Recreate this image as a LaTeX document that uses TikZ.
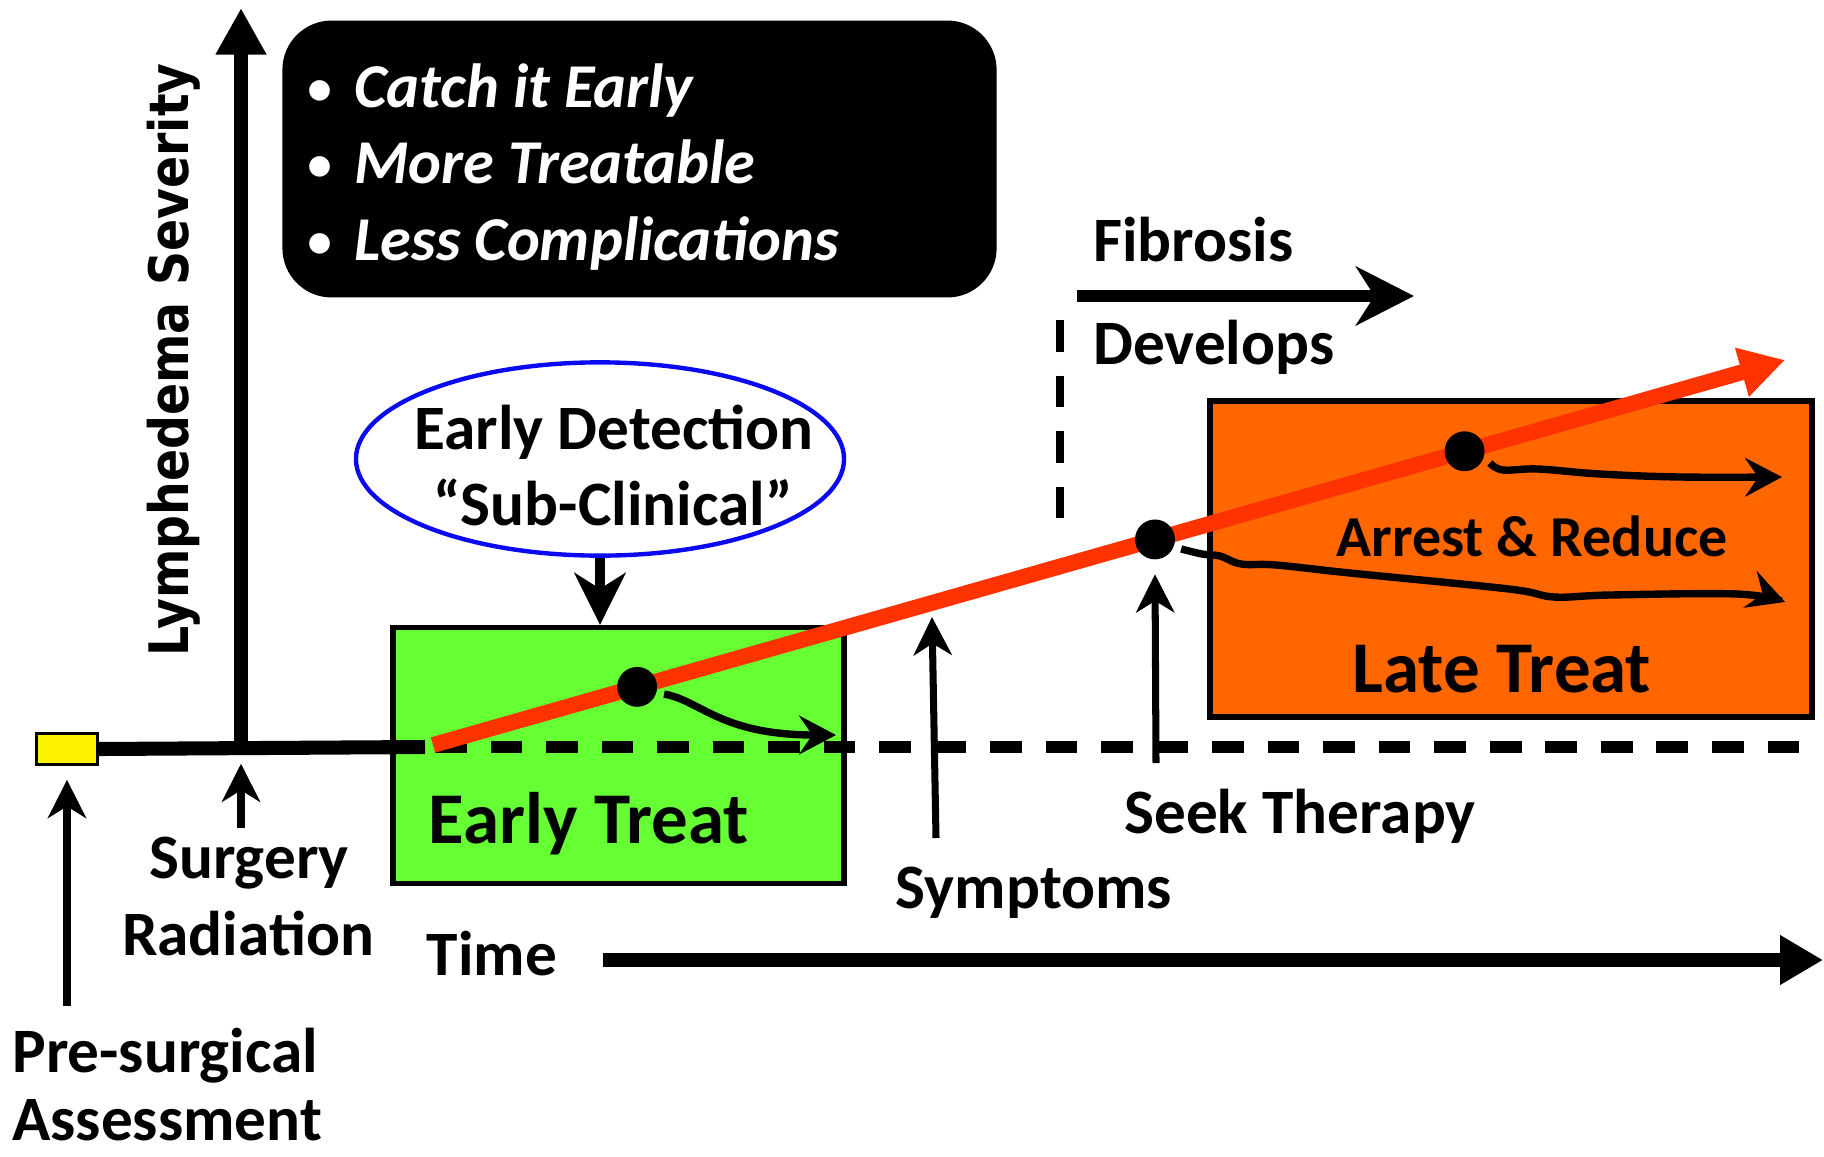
\documentclass[tikz,border=0pt]{standalone}
\usepackage{fontspec}
\setmainfont{Carlito}
\newfontfamily\sevfont{DejaVu Sans}
\usepackage{tikz}
\usetikzlibrary{arrows.meta, shapes.geometric, positioning, calc}
\definecolor{treatgreen}{HTML}{66FF33}
\definecolor{treatorange}{HTML}{FF6600}
\definecolor{risered}{HTML}{FF3300}
\definecolor{detectblue}{HTML}{0A0AF0}
\newcommand{\smallbullet}{\raisebox{1.5pt}{\scalebox{0.78}{•}}\hspace{13pt}}
\tikzset{
    lbl/.style={
        font=\fontsize{36}{43}\selectfont\bfseries,
        inner sep=0pt,
        anchor=base,
    },
    biglbl/.style={
        lbl,
        font=\fontsize{41.5}{49}\selectfont\bfseries,
    },
    midlbl/.style={
        lbl,
        font=\fontsize{33}{40}\selectfont\bfseries,
    },
    bullet/.style={
        lbl,
        anchor=base west,
        text=white,
        font=\fontsize{35.5}{43}\selectfont\bfseries\itshape,
    },
    sevlbl/.style={
        font=\sevfont\fontsize{31}{37}\selectfont\bfseries,
        inner sep=0pt,
        anchor=base,
        rotate=90,
    },
    notebox/.style={
        rectangle,
        rounded corners=28pt,
        fill=black,
        minimum width=406.5pt,
        minimum height=157.6pt,
    },
    earlybox/.style={
        rectangle,
        draw=black,
        line width=3pt,
        fill=treatgreen,
        minimum width=256.8pt,
        minimum height=145.7pt,
    },
    latebox/.style={
        rectangle,
        draw=black,
        line width=3.5pt,
        fill=treatorange,
        minimum width=342.5pt,
        minimum height=180.3pt,
    },
    detectbox/.style={
        ellipse,
        draw=detectblue,
        line width=2.5pt,
        minimum width=277.8pt,
        minimum height=110pt,
    },
    prebox/.style={
        rectangle,
        draw=black,
        line width=1.5pt,
        fill=yellow,
        minimum width=35pt,
        minimum height=17.6pt,
    },
    blackdot/.style={
        circle,
        fill=black,
        inner sep=0pt,
        minimum size=22.7pt,
    },
    axisline/.style={line width=8.5pt, -{Triangle[length=26.6pt, width=27.2pt]}},
    timeline/.style={line width=8.5pt, -{Triangle[length=24.4pt, width=26.6pt]}},
    floorline/.style={line width=8pt},
    dashline/.style={line width=6.5pt, dash pattern=on 18pt off 13.6pt},
    riseline/.style={draw=risered, line width=9pt, -{Triangle[length=25.5pt, width=27.2pt]}},
    pointer/.style={line width=4pt, -{Stealth[length=21.7pt, width=21.7pt, inset=6.6pt]}},
    swerve/.style={line width=4.2pt, -{Stealth[length=21pt, width=22pt, inset=7.5pt]}},
    fibarrow/.style={line width=7pt, -{Stealth[length=33pt, width=33.4pt, inset=10.5pt]}},
    downarrow/.style={line width=5.7pt, -{Stealth[length=29.5pt, width=29pt, inset=9pt]}},
    fibdash/.style={line width=4.5pt, dash pattern=on 18pt off 13.6pt},
}
\begin{document}
\begin{tikzpicture}[x=0.02cm, y=-0.02cm]
      \useasboundingbox (0,0) rectangle (1824,1156);

      % boxes
      \node [notebox] (note) at (639.5,159) {};
      \node [earlybox] (earlytreat) at (618.5,755.5) {};
      \node [latebox] (latetreat) at (1511,559) {};
      \node [detectbox] (detect) at (600,459) {};
      \node [prebox] (pre) at (67,749) {};

      \node [bullet] (catch) at (307,107) {\smallbullet Catch it Early};
      \node [bullet] (treatable) at (307,183) {\smallbullet More Treatable};
      \node [bullet] (fewer) at (307,260) {\smallbullet Less Complications};
      \node [lbl] (detect1) at (614,449) {Early Detection};
      \node [lbl] (detect2) at (613,525) {“Sub-Clinical”};

      % axes and base line
      \coordinate (origin) at (241,747);
      \coordinate (ytop) at (241,8);
      \coordinate (solidend) at (425,747);
      \coordinate (dashstart) at (435,747);
      \coordinate (dashend) at (1813,747);
      \draw [floorline] (pre.east) -- (solidend);
      \draw [dashline] (dashstart) -- (dashend);
      \draw [axisline] (origin) -- (ytop);
      \node [sevlbl] (severity) at (188,360) {\scalebox{0.87}[1]{Lymphedema Severity}};

      % rising severity line
      \coordinate (risestart) at (433,745);
      \coordinate (riseend) at (1785,360);
      \draw [riseline] (risestart) -- (riseend)
            node [blackdot, pos=0.151] (d1) {}
            node [blackdot, pos=0.534] (d2) {}
            node [blackdot, pos=0.763] (d3) {};

      \coordinate (e1) at (836,735);
      \coordinate (e2) at (1785,602);
      \coordinate (e3) at (1782,477);
      \draw [swerve] (d1.-15) .. controls (700,700) and (720,735) .. (e1);
      \draw [swerve] plot [smooth, tension=0.6] coordinates {(d2.-20) (1202,554) (1220,556) (1241,564) (1276,565) (1350,573) (1509,589) (1554,597) (1610,595) (1737,594) (e2)};
      \draw [swerve] plot [smooth, tension=0.6] coordinates {(d3.-25) (1503,470) (1538,469) (1600,474) (1680,477) (e3)};

      \node [midlbl] (arrest) at (1532,556) {Arrest \& Reduce};
      \node [biglbl] (latetxt) at (1502,692) {Late Treat};
      \node [biglbl] (earlytxt) at (589,843) {Early Treat};

      \draw [downarrow] (detect.south) -- (detect.south |- earlytreat.north);

      % fibrosis
      \coordinate (fibstart) at (1077,296);
      \coordinate (fibend) at (1414,296);
      \coordinate (fibtop) at (1060,320);
      \coordinate (fibbot) at (1060,520);
      \draw [fibarrow] (fibstart) -- (fibend);
      \draw [fibdash] (fibtop) -- (fibbot);
      \node [lbl, anchor=base west] (fibrosis) at (1093,261) {Fibrosis};
      \node [lbl, anchor=base west] (develops) at (1093,364) {Develops};

      % events under the time line
      \coordinate (symlow) at (936,838);
      \coordinate (symtip) at (932,617);
      \coordinate (seeklow) at (1156,763);
      \coordinate (surglow) at (241,828);
      \coordinate (prelow) at (67,1006);
      \draw [pointer] (symlow) -- (symtip);
      \draw [pointer, shorten >=4pt] (seeklow) -- (d2.south);
      \draw [pointer, shorten >=9.5pt] (surglow) -- (origin);
      \draw [pointer, shorten >=8pt] (prelow) -- (pre.south);

      \node [lbl] (symptoms) at (1034,908) {Symptoms};
      \node [lbl] (seek) at (1300,833) {Seek Therapy};
      \node [lbl] (surgery) at (249,878) {Surgery};
      \node [lbl] (radiation) at (248,955) {Radiation};
      \node [lbl] (time) at (492,975) {Time};
      \node [lbl, anchor=base west] (presurg) at (12,1072) {Pre-surgical};
      \node [lbl, anchor=base west] (assess) at (12,1140) {Assessment};

      \coordinate (tstart) at (603,960);
      \coordinate (tend) at (1823,960);
      \draw [timeline] (tstart) -- (tend);
\end{tikzpicture}
\end{document}
